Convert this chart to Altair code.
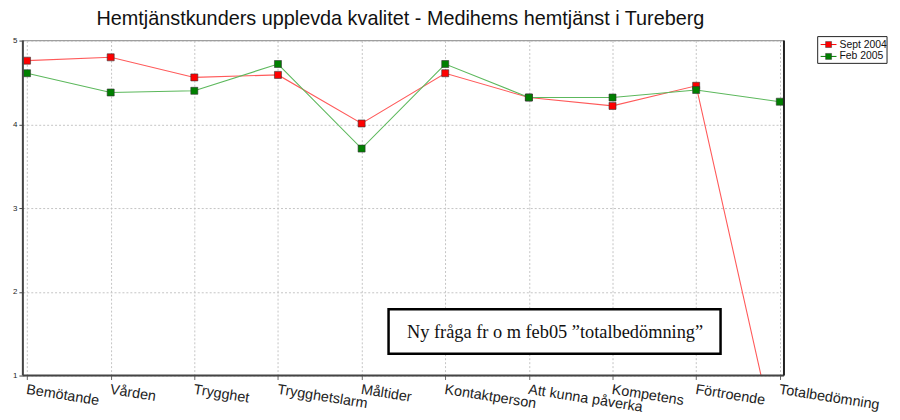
import altair as alt
import pandas as pd

categories = ["Bemötande", "Vården", "Trygghet", "Trygghetslarm", "Måltider",
              "Kontaktperson", "Att kunna påverka", "Kompetens", "Förtroende", "Totalbedömning"]
sept2004 = [4.76, 4.80, 4.56, 4.59, 4.01, 4.61, 4.32, 4.22, 4.46, 0.0]
feb2005 = [4.61, 4.38, 4.40, 4.72, 3.71, 4.72, 4.32, 4.32, 4.41, 4.27]
series_names = ["Sept 2004", "Feb 2005"]
series_colors = ["#ff0000", "#008000"]
line_colors = ["#ff5a5a", "#5cb85c"]
y_ticks = [1, 2, 3, 4, 5]
note_text = "Ny fråga fr o m feb05 ”totalbedömning”"
title_text = "Hemtjänstkunders upplevda kvalitet - Medihems hemtjänst i Tureberg"

W, H = 768, 338

rows = []
for name, vals in zip(series_names, [sept2004, feb2005]):
    for i, (c, v) in enumerate(zip(categories, vals)):
        rows.append({"kategori": c, "serie": name, "värde": v, "ordning": i})
df = pd.DataFrame(rows)

x_enc = alt.X("kategori:N", sort=categories,
              scale=alt.Scale(type="point", padding=0.05),
              axis=alt.Axis(title=None, labelAngle=9, labelAlign="left", labelBaseline="top",
                            labelFontSize=14.5, labelColor="#222", labelPadding=3,
                            grid=True, gridDash=[2, 2], gridColor="#c4c4c4",
                            domain=False, tickColor="#666", tickSize=4,
                            labelFont="Liberation Sans"))
y_enc = alt.Y("värde:Q", scale=alt.Scale(domain=[1, 5], nice=False, zero=False),
              axis=alt.Axis(title=None, values=y_ticks, format="d", labelFontSize=8,
                            labelColor="#222", grid=True, gridDash=[2, 2], gridColor="#c4c4c4",
                            domain=False, tickColor="#444", tickSize=4, labelPadding=2))

lines = alt.Chart(df).mark_line(clip=True, strokeWidth=1.1).encode(
    x=x_enc, y=y_enc,
    color=alt.Color("serie:N", scale=alt.Scale(domain=series_names, range=line_colors), legend=None),
    order=alt.Order("ordning:Q"),
    detail="serie:N",
)

points = alt.Chart(df).mark_point(shape="square", filled=True, size=50, clip=True,
                                   stroke="#333", strokeWidth=0.6, opacity=1).encode(
    x=x_enc, y=y_enc,
    fill=alt.Fill("serie:N", scale=alt.Scale(domain=series_names, range=series_colors), legend=None),
)

one = pd.DataFrame({"a": [0]})
frame_left = alt.Chart(one).mark_rule(color="#444", strokeWidth=2).encode(
    x=alt.value(0), y=alt.value(0), y2=alt.value(H))
frame_bottom = alt.Chart(one).mark_rule(color="#444", strokeWidth=2).encode(
    x=alt.value(0), x2=alt.value(W), y=alt.value(H))
frame_right = alt.Chart(one).mark_rule(color="#222", strokeWidth=2).encode(
    x=alt.value(W), y=alt.value(0), y2=alt.value(H))
frame_top = alt.Chart(one).mark_rule(color="#999", strokeWidth=1).encode(
    x=alt.value(0), x2=alt.value(W), y=alt.value(0))

note_df = pd.DataFrame({"text": [note_text]})
box = alt.Chart(note_df).mark_rect(fill="white", stroke="black", strokeWidth=2.5).encode(
    x=alt.value(369), x2=alt.value(704), y=alt.value(271), y2=alt.value(316))
note = alt.Chart(note_df).mark_text(font="Liberation Serif", fontSize=18.5, color="#111",
                                    align="center", baseline="middle").encode(
    x=alt.value(537), y=alt.value(294), text="text:N")

# manual legend
LX, LY = 802, -4
legend_layers = [
    alt.Chart(one).mark_rect(fill="white", stroke="#222", strokeWidth=1).encode(
        x=alt.value(LX), x2=alt.value(LX + 70), y=alt.value(LY), y2=alt.value(LY + 27))
]
for k, (name, col, lcol) in enumerate(zip(series_names, series_colors, line_colors)):
    yy = LY + 8 + 12 * k
    ldf = pd.DataFrame({"serie": [name]})
    legend_layers.append(alt.Chart(ldf).mark_rule(color=col, strokeWidth=1).encode(
        x=alt.value(LX + 3), x2=alt.value(LX + 19), y=alt.value(yy)))
    legend_layers.append(alt.Chart(ldf).mark_point(shape="square", filled=True, size=36,
                                                   color=col, stroke="#333", strokeWidth=0.5,
                                                   opacity=1).encode(
        x=alt.value(LX + 11), y=alt.value(yy)))
    legend_layers.append(alt.Chart(ldf).mark_text(fontSize=10.5, font="Liberation Sans",
                                                  color="#111", align="left",
                                                  baseline="middle").encode(
        x=alt.value(LX + 22), y=alt.value(yy), text="serie:N"))

chart = alt.layer(lines, points, frame_top, frame_left, frame_bottom, frame_right,
                  box, note, *legend_layers).properties(
    width=W, height=H,
    title=alt.TitleParams(title_text, fontSize=20, font="Liberation Sans", fontWeight="normal",
                          color="#111", anchor="middle", dx=-3, offset=7),
    autosize=alt.AutoSizeParams(type="none"),
    padding={"left": 15, "top": 31, "right": 109, "bottom": 43},
).configure_view(stroke=None).configure(background="white")

chart.save("out.html", embed_options={"renderer": "svg", "actions": False})
